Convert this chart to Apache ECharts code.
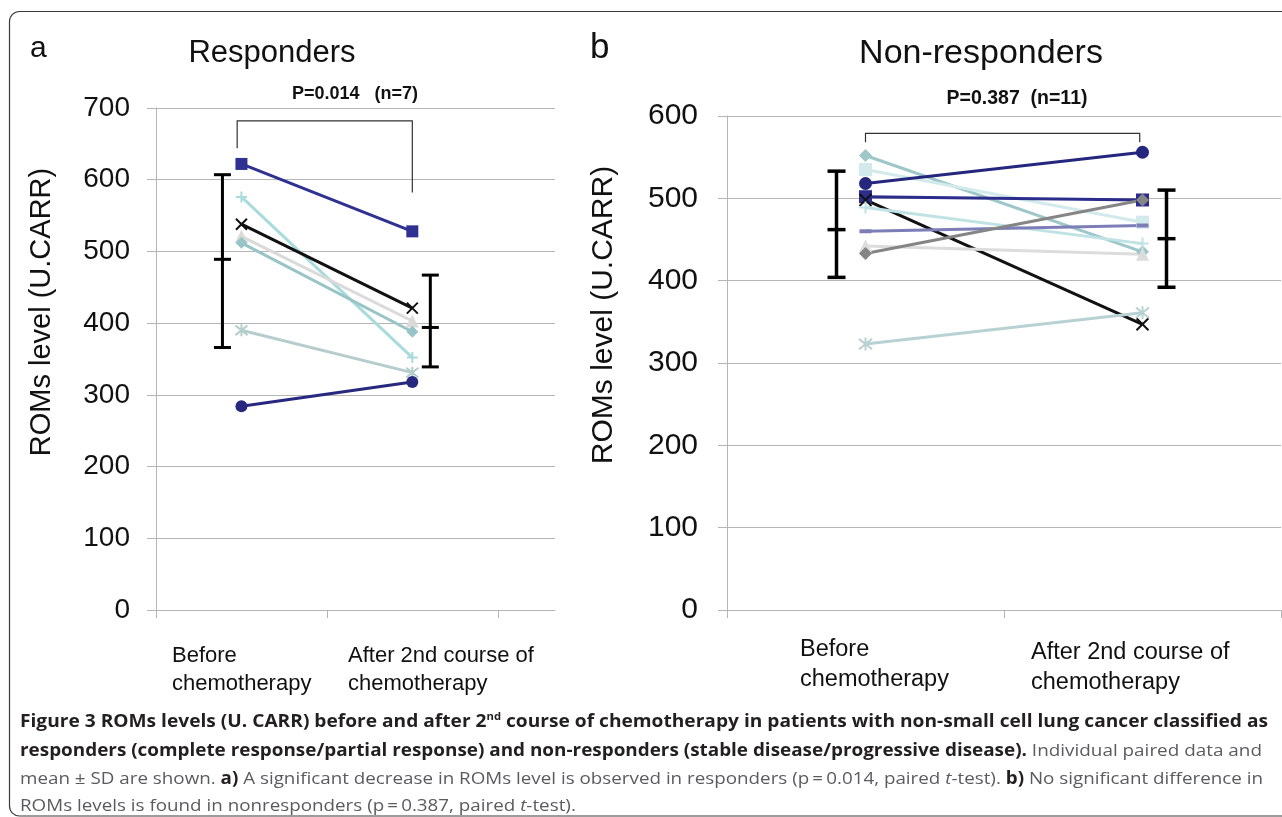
<!DOCTYPE html>
<html>
<head>
<meta charset="utf-8">
<script src="https://cdn.jsdelivr.net/npm/echarts@6/dist/echarts.min.js"></script>
<style>
html,body{margin:0;padding:0;background:#fff;}
#c{width:1282px;height:817px;}
</style>
</head>
<body>
<div id="c"></div>
<script>
// ---------- data ----------
const categories = ['Before\nchemotherapy', 'After 2nd course of\nchemotherapy'];
const yTicksA = [0, 100, 200, 300, 400, 500, 600, 700];
const yTicksB = [0, 100, 200, 300, 400, 500, 600];

// Responders (n=7): before / after
const respBefore = [622, 576, 538, 521, 512, 390, 284];
const respAfter  = [528, 352, 421, 403, 388, 331, 318];
// mean ± SD (before, after)
const respMean = [489, 394];
const respLow  = [366, 339];
const respHigh = [607, 467];

// Non-responders: before / after
const nonBefore = [552, 535, 518, 502, 498, 489, 460, 442, 433, 323];
const nonAfter  = [435, 471, 556, 498, 347, 445, 467, 432, 498, 361];
const nonMean = [462, 451];
const nonLow  = [404, 392];
const nonHigh = [533, 510];

// significance brackets: [xLeft, xRight, yTop, yLeftEnd, yRightEnd]
const bracketA = [0.475, 1.5, 682, 644, 582];
const bracketB = [0.5, 1.49, 579, 568, 568];

// ---------- styles ----------
const P_X = 'path://M0,0L10,10M10,0L0,10';
const P_PLUS = 'path://M5,0L5,10M0,5L10,5';
const P_AST = 'path://M5,0L5,10M1,1L9,9M9,1L1,9';
const respStyle = [
  {c:'#2e3192', s:'rect', size:12},
  {c:'#a9dbdc', s:P_PLUS, size:11, stroke:true},
  {c:'#111111', s:P_X, size:11, stroke:true},
  {c:'#dadada', s:'triangle', size:13},
  {c:'#98c4c6', s:'diamond', size:12},
  {c:'#b5cdcd', s:P_AST, size:12, stroke:true},
  {c:'#27287f', s:'circle', size:12}
];
const nonStyle = [
  {c:'#9dc7c8', s:'diamond', size:13},
  {c:'#d3eaec', s:'rect', size:13},
  {c:'#25267e', s:'circle', size:13},
  {c:'#2b2c8c', s:'rect', size:13},
  {c:'#111111', s:P_X, size:12, stroke:true},
  {c:'#bfe3e5', s:P_PLUS, size:12, stroke:true},
  {c:'#7d7db8', s:'rect', size:[12,4]},
  {c:'#dcdcdc', s:'triangle', size:13},
  {c:'#858585', s:'diamond', size:13},
  {c:'#b8d1d3', s:P_AST, size:13, stroke:true}
];

function pairSeries(before, after, styles, axisIdx) {
  return before.map((b, i) => {
    const st = styles[i];
    const it = {color: st.c};
    if (st.stroke) { it.borderColor = st.c; it.borderWidth = 2; }
    return {
      type: 'line', xAxisIndex: axisIdx, yAxisIndex: axisIdx,
      data: [[0.5, b], [1.5, after[i]]],
      symbol: st.s, symbolSize: st.size,
      lineStyle: {color: st.c, width: 3},
      itemStyle: it, silent: true, z: 3
    };
  });
}

function errSeries(mean, low, high, axisIdx, dx, half, lw) {
  return {
    type: 'custom', xAxisIndex: axisIdx, yAxisIndex: axisIdx, silent: true, z: 5,
    data: mean.map((m, i) => [i + 0.5, low[i], m, high[i]]),
    encode: {x: 0, y: [1, 2, 3]},
    renderItem: function (params, api) {
      const i = params.dataIndex;
      const x = api.value(0);
      const pl = api.coord([x, api.value(1)]);
      const pm = api.coord([x, api.value(2)]);
      const ph = api.coord([x, api.value(3)]);
      const X = pl[0] + dx[i];
      const st = {stroke: '#000', lineWidth: lw};
      const ln = (x1, y1, x2, y2) => ({type: 'line', shape: {x1, y1, x2, y2}, style: st});
      return {type: 'group', children: [
        ln(X, pl[1], X, ph[1]),
        ln(X - half, pl[1], X + half, pl[1]),
        ln(X - half, pm[1], X + half, pm[1]),
        ln(X - half, ph[1], X + half, ph[1])
      ]};
    }
  };
}

function bracketSeries(br, axisIdx) {
  return {
    type: 'custom', xAxisIndex: axisIdx, yAxisIndex: axisIdx, silent: true, z: 2,
    data: [br],
    encode: {x: [0, 1], y: [2, 3, 4]},
    renderItem: function (params, api) {
      const a = api.coord([api.value(0), api.value(2)]);
      const b = api.coord([api.value(1), api.value(2)]);
      const al = api.coord([api.value(0), api.value(3)]);
      const br2 = api.coord([api.value(1), api.value(4)]);
      return {type: 'polyline', shape: {points: [[al[0], al[1]], [a[0], a[1]], [b[0], b[1]], [br2[0], br2[1]]]},
        style: {stroke: '#333', lineWidth: 1.2, fill: null}};
    }
  };
}

const FONT = 'Liberation Sans';
const GRID = '#b5b5b5';

function xAx(idx, max) {
  return {
    type: 'value', gridIndex: idx, min: 0, max: max,
    axisLine: {show: true, lineStyle: {color: GRID, width: 1}},
    axisTick: {show: true, length: 8, customValues: [0, 1, 2], lineStyle: {color: GRID}},
    axisLabel: {show: false}, splitLine: {show: false}
  };
}
function yAx(idx, ticks, fs, margin) {
  return {
    type: 'value', gridIndex: idx, min: ticks[0], max: ticks[ticks.length - 1], interval: 100,
    axisLine: {show: true, lineStyle: {color: GRID, width: 1}},
    axisTick: {show: true, length: 9, lineStyle: {color: GRID}},
    splitLine: {show: true, lineStyle: {color: GRID, width: 1}},
    axisLabel: {fontSize: fs, fontFamily: FONT, color: '#111', margin: margin}
  };
}

// ---------- caption (rich text, fitted by measured width) ----------
const capFs = 17;
const capRich = {
  b: {fontFamily: 'Open Sans', fontWeight: 'bold', fontSize: capFs, fill: '#231f20', lineHeight: 22},
  s: {fontFamily: 'Open Sans', fontWeight: 'bold', fontSize: 10, fill: '#231f20', lineHeight: 22, verticalAlign: 'top', padding: [1, 0, 0, 0]},
  r: {fontFamily: 'Open Sans', fontWeight: 'normal', fontSize: capFs, fill: '#5a5b5d', lineHeight: 22},
  i: {fontFamily: 'Open Sans', fontWeight: 'normal', fontStyle: 'italic', fontSize: capFs, fill: '#5a5b5d', lineHeight: 22}
};
const captionLines = [
  [['b', 'Figure 3 ROMs levels (U. CARR) before and after 2'], ['s', 'nd'], ['b', ' course of chemotherapy in patients with non-small cell lung cancer classified as']],
  [['b', 'responders (complete response/partial response) and non-responders (stable disease/progressive disease).'], ['r', ' Individual paired data and']],
  [['r', 'mean \u00b1 SD are shown. '], ['b', 'a)'], ['r', ' A significant decrease in ROMs level is observed in responders (p\u2009=\u20090.014, paired '], ['i', 't'], ['r', '-test). '], ['b', 'b)'], ['r', ' No significant difference in']],
  [['r', 'ROMs levels is found in nonresponders (p\u2009=\u20090.387, paired '], ['i', 't'], ['r', '-test).']]
];
const capTargets = [1248, 1242, 1243, null];
const capY = [722, 751, 779, 806];
const mctx = document.createElement('canvas').getContext('2d');
function segWidth(key, txt) {
  const r = capRich[key];
  mctx.font = (r.fontStyle === 'italic' ? 'italic ' : '') + (r.fontWeight === 'bold' ? 'bold ' : '') + r.fontSize + 'px "' + r.fontFamily + '"';
  return mctx.measureText(txt).width;
}
let lastScale = 1;
const capGraphics = captionLines.map((line, k) => {
  const w = line.reduce((s, seg) => s + segWidth(seg[0], seg[1]), 0);
  const sc = capTargets[k] ? capTargets[k] / w : lastScale;
  lastScale = sc;
  return {
    type: 'text', x: 20, y: capY[k], scaleX: sc, silent: true,
    style: {text: line.map(seg => '{' + seg[0] + '|' + seg[1] + '}').join(''), rich: capRich, verticalAlign: 'middle', align: 'left'}
  };
});

function txt(x, y, text, fs, opts, extra) {
  return Object.assign({type: 'text', x: x, y: y, silent: true,
    style: Object.assign({text: text, fontSize: fs, fontFamily: FONT, fill: '#111', align: 'left', verticalAlign: 'middle'}, opts || {})}, extra || {});
}

const yName = 'ROMs level (U.CARR)';
const chart = echarts.init(document.getElementById('c'), null, {renderer: 'canvas'});
chart.setOption({
  animation: false,
  backgroundColor: '#fff',
  grid: [
    {left: 156, top: 108, width: 399, height: 502},
    {left: 727, top: 116, width: 554, height: 494}
  ],
  xAxis: [xAx(0, 2.335), xAx(1, 2)],
  yAxis: [yAx(0, yTicksA, 28, 26), yAx(1, yTicksB, 30, 29)],
  series: [].concat(
    [bracketSeries(bracketA, 0), bracketSeries(bracketB, 1)],
    pairSeries(respBefore, respAfter, respStyle, 0),
    pairSeries(nonBefore, nonAfter, nonStyle, 1),
    [errSeries(respMean, respLow, respHigh, 0, [-19, 18], 8.5, 3),
     errSeries(nonMean, nonLow, nonHigh, 1, [-29, 24], 9, 3.5)]
  ),
  graphic: [
    {type: 'rect', shape: {x: 9.5, y: 11.5, width: 1300, height: 804.5, r: 10}, style: {fill: null, stroke: '#3a3a3a', lineWidth: 1.2}, silent: true, z: -10},
    txt(30, 49, 'a', 30),
    txt(272, 53, 'Responders', 31, {align: 'center'}),
    txt(590, 48, 'b', 35),
    txt(981, 54, 'Non-responders', 34, {align: 'center'}),
    txt(355, 94, 'P=0.014   (n=7)', 18, {align: 'center', fontWeight: 'bold'}),
    txt(1017, 99, 'P=0.387  (n=11)', 19.5, {align: 'center', fontWeight: 'bold'}),
    txt(42, 312, yName, 29, {align: 'center'}, {rotation: Math.PI / 2}),
    txt(604, 315, yName, 30, {align: 'center'}, {rotation: Math.PI / 2}),
    txt(172, 656, categories[0], 22, {lineHeight: 28, verticalAlign: 'top', y: -14}),
    txt(348, 656, categories[1], 22, {lineHeight: 28, verticalAlign: 'top', y: -14}),
    txt(800, 650, categories[0], 23.5, {lineHeight: 30, verticalAlign: 'top', y: -15}),
    txt(1031, 653, categories[1], 23.5, {lineHeight: 30, verticalAlign: 'top', y: -15})
  ].concat(capGraphics)
});
</script>
</body>
</html>
